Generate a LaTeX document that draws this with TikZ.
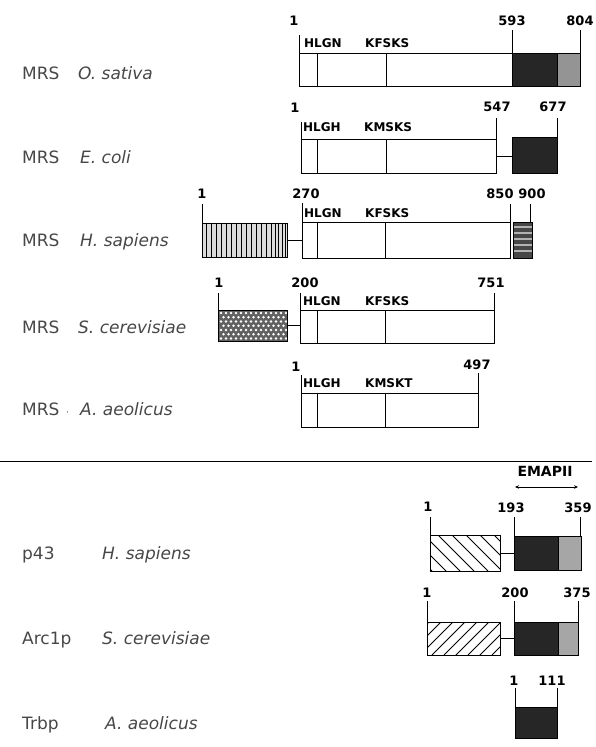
\documentclass[tikz,border=0pt]{standalone}
\usepackage{fontspec}
\setmainfont{DejaVu Sans}
\usetikzlibrary{arrows.meta,calc}
\begin{document}
\begin{tikzpicture}[x=1pt,y=-1pt,
  dom/.style={draw, line width=0.9pt, inner sep=0pt, outer sep=0pt, fill=white},
  blk/.style={dom, fill=black!85},
  gry/.style={dom, fill=black!42},
  tickline/.style={line width=0.8pt},
  link/.style={line width=0.9pt},
  inner/.style={line width=0.9pt},
  num/.style={font=\fontsize{13}{13}\selectfont\bfseries, inner sep=0pt},
  motif/.style={font=\fontsize{12}{12}\selectfont\bfseries, inner sep=0pt, anchor=base west},
  org/.style={font=\fontsize{17}{20}\selectfont, text=black!72, inner sep=0pt, anchor=base west},
  hatchline/.style={line width=0.9pt},
]
\useasboundingbox (0,0) rectangle (596,747);

% ---------------- left labels ----------------
\node[org] (L1a) at (22,79) {MRS};  \node[org] (L1b) at (78,79) {\itshape O. sativa};
\node[org] (L2a) at (22,163) {MRS}; \node[org] (L2b) at (80,163) {\itshape E. coli};
\node[org] (L3a) at (22,246) {MRS}; \node[org] (L3b) at (80,246) {\itshape H. sapiens};
\node[org] (L4a) at (22,333) {MRS}; \node[org] (L4b) at (78,333) {\itshape S. cerevisiae};
\node[org] (L5a) at (22,415) {MRS}; \node[org] (L5d) at (66,415) {\fontsize{9}{9}\selectfont ·};
\node[org] (L5b) at (80,415) {\itshape A. aeolicus};
\node[org] (L6a) at (22,559) {p43};   \node[org] (L6b) at (102,559) {\itshape H. sapiens};
\node[org] (L7a) at (22,644) {Arc1p}; \node[org] (L7b) at (102,644) {\itshape S. cerevisiae};
\node[org] (L8a) at (22,729) {Trbp};  \node[org] (L8b) at (105,729) {\itshape A. aeolicus};

% ---------------- Row 1: O. sativa ----------------
\node[dom, minimum width=213, minimum height=33] (s1) at (405.5,69.5) {};
\node[blk, minimum width=45, minimum height=33] (s1b) at (534.5,69.5) {};
\node[gry, minimum width=23, minimum height=33] (s1g) at (568.5,69.5) {};
\draw[inner] (317,53) -- (317,86);
\draw[inner] (386,53) -- (386,86);
\node[num] (n1a) at (294,21) {1};
\node[num] (n1b) at (512,21) {593};
\node[num] (n1c) at (580,21) {804};
\draw[tickline] (299,35) -- (299,53);
\draw[tickline] (512,30) -- (512,53);
\draw[tickline] (580,30) -- (580,53);
\node[motif] (m1a) at (304,47) {HLGN};
\node[motif] (m1b) at (365,47) {KFSKS};

% ---------------- Row 2: E. coli ----------------
\node[dom, minimum width=195, minimum height=34] (e1) at (398.5,156) {};
\node[blk, minimum width=45, minimum height=36] (e1b) at (534.5,155) {};
\draw[link] (e1.east) -- (e1.east -| e1b.west);
\draw[inner] (317,139) -- (317,173);
\draw[inner] (386,139) -- (386,173);
\node[num] (n2a) at (295,108) {1};
\node[num] (n2b) at (497,107) {547};
\node[num] (n2c) at (553,107) {677};
\draw[tickline] (301,122) -- (301,139);
\draw[tickline] (496,118) -- (496,139);
\draw[tickline] (557,118) -- (557,137);
\node[motif] (m2a) at (303,131) {HLGH};
\node[motif] (m2b) at (364,131) {KMSKS};

% ---------------- Row 3: H. sapiens ----------------
\node[dom, fill=black!14, minimum width=85, minimum height=34] (h0) at (244.5,240) {};
\begin{scope}
  \clip (h0.north west) rectangle (h0.south east);
  \foreach \x in {206,211,...,271} \draw[line width=0.8pt] (\x,223) -- (\x,257);
  \foreach \x in {275,278.5,...,287} \draw[line width=0.8pt] (\x,223) -- (\x,257);
\end{scope}
\draw[line width=0.9pt] (h0.north west) rectangle (h0.south east);
\node[dom, minimum width=208, minimum height=36] (h1) at (406,240) {};
\node[dom, fill=black!72, minimum width=19, minimum height=36] (h2) at (522.5,240) {};
\begin{scope}
  \clip (h2.north west) rectangle (h2.south east);
  \foreach \y in {227,233,...,256} \draw[black!30, line width=1.3pt] (513,\y) -- (532,\y);
\end{scope}
\draw[line width=0.9pt] (h2.north west) rectangle (h2.south east);
\draw[link] (h0.east) -- (h1.west);
\draw[inner] (317,222) -- (317,258);
\draw[inner] (385,222) -- (385,258);
\node[num] (n3a) at (202,194) {1};
\node[num] (n3b) at (306,194) {270};
\node[num] (n3c) at (500,194) {850};
\node[num] (n3d) at (532,194) {900};
\draw[tickline] (202,204) -- (202,223);
\draw[tickline] (302,203) -- (302,222);
\draw[tickline] (510,204) -- (510,222);
\draw[tickline] (530,204) -- (530,222);
\node[motif] (m3a) at (304,217) {HLGN};
\node[motif] (m3b) at (365,217) {KFSKS};

% ---------------- Row 4: S. cerevisiae ----------------
\node[dom, fill=black!62, minimum width=69, minimum height=31] (c0) at (252.5,325.5) {};
\begin{scope}
  \clip (c0.north west) rectangle (c0.south east);
  \foreach \x in {221,226,...,286} \foreach \y in {313,321.5,...,341} \fill[white] (\x,\y) circle (1.3pt);
  \foreach \x in {223.5,228.5,...,288} \foreach \y in {317.25,325.75,...,341} \fill[white] (\x,\y) circle (1.3pt);
\end{scope}
\draw[line width=0.9pt] (c0.north west) rectangle (c0.south east);
\node[dom, minimum width=194, minimum height=33] (c1) at (397,326.5) {};
\draw[link] (c0.east) -- (c0.east -| c1.west);
\draw[inner] (317,310) -- (317,343);
\draw[inner] (385,310) -- (385,343);
\node[num] (n4a) at (219,282.5) {1};
\node[num] (n4b) at (305,282.5) {200};
\node[num] (n4c) at (491,282.5) {751};
\draw[tickline] (218,293) -- (218,310);
\draw[tickline] (300,293) -- (300,310);
\draw[tickline] (494,293) -- (494,310);
\node[motif] (m4a) at (303,305) {HLGN};
\node[motif] (m4b) at (365,305) {KFSKS};

% ---------------- Row 5: A. aeolicus ----------------
\node[dom, minimum width=177, minimum height=34] (a1) at (389.5,410) {};
\draw[inner] (317,393) -- (317,427);
\draw[inner] (385,393) -- (385,427);
\node[num] (n5a) at (296,367) {1};
\node[num] (n5b) at (477,365) {497};
\draw[tickline] (301,375) -- (301,393);
\draw[tickline] (478,373) -- (478,393);
\node[motif] (m5a) at (303,387) {HLGH};
\node[motif] (m5b) at (365,387) {KMSKT};

% ---------------- separator ----------------
\draw[line width=1pt] (0,461) -- (592,461);

% ---------------- EMAPII ----------------
\node[num, font=\fontsize{14}{14}\selectfont\bfseries] (emap) at (545,471) {EMAPII};
\coordinate (em1) at (515,487);
\coordinate (em2) at (578,487);
\draw[line width=1pt, {Stealth[length=4pt,width=3.5pt]}-{Stealth[length=4pt,width=3.5pt]}] (em1) -- (em2);

% ---------------- p43 ----------------
\node[dom, minimum width=70, minimum height=36] (p0) at (465,553) {};
\begin{scope}
  \clip (p0.north west) rectangle (p0.south east);
  \foreach \x in {396,410,...,500} \draw[hatchline] (\x,535) -- ++(36,36);
\end{scope}
\draw[line width=0.9pt] (p0.north west) rectangle (p0.south east);
\node[blk, minimum width=44, minimum height=34] (p1) at (536,553) {};
\node[dom, fill=black!35, minimum width=23, minimum height=34] (p2) at (569.5,553) {};
\draw[link] (p0.east) -- (p1.west);
\node[num] (n6a) at (428,507) {1};
\node[num] (n6b) at (511,507.5) {193};
\node[num] (n6c) at (578,507.5) {359};
\draw[tickline] (430,517) -- (430,535);
\draw[tickline] (514,517) -- (514,536);
\draw[tickline] (580,517) -- (580,536);

% ---------------- Arc1p ----------------
\node[dom, minimum width=73, minimum height=33] (r0) at (463.5,638.5) {};
\begin{scope}
  \clip (r0.north west) rectangle (r0.south east);
  \foreach \x in {396,408,...,510} \draw[hatchline] (\x,655) -- ++(33,-33);
\end{scope}
\draw[line width=0.9pt] (r0.north west) rectangle (r0.south east);
\node[blk, minimum width=44, minimum height=33] (r1) at (536,638.5) {};
\node[dom, fill=black!35, minimum width=20, minimum height=33] (r2) at (568,638.5) {};
\draw[link] (r0.east) -- (r1.west);
\node[num] (n7a) at (427,592.5) {1};
\node[num] (n7b) at (515,592.5) {200};
\node[num] (n7c) at (577,592.5) {375};
\draw[tickline] (427,601) -- (427,622);
\draw[tickline] (514,601) -- (514,622);
\draw[tickline] (578,601) -- (578,622);

% ---------------- Trbp ----------------
\node[blk, minimum width=42, minimum height=31] (t1) at (536,722.5) {};
\node[num] (n8a) at (514,681) {1};
\node[num] (n8b) at (552,681) {111};
\draw[tickline] (515,688) -- (515,707);
\draw[tickline] (557,688) -- (557,707);

\end{tikzpicture}
\end{document}
